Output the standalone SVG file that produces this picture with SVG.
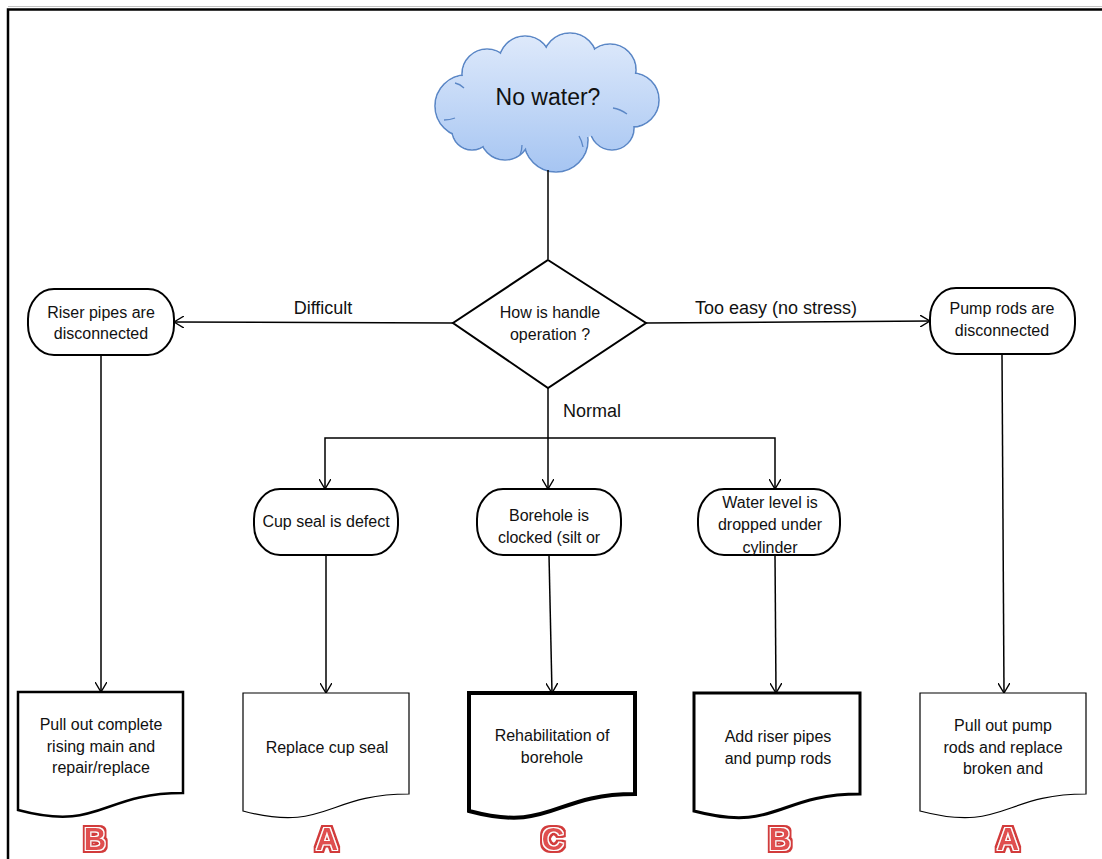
<svg xmlns="http://www.w3.org/2000/svg" width="1102" height="859" viewBox="0 0 1102 859">
<style>
.t{font-family:"Liberation Sans",Arial,sans-serif;font-size:16px;fill:#111;text-anchor:middle}
.lbl{font-family:"Liberation Sans",Arial,sans-serif;font-size:18px;fill:#111;text-anchor:middle}
.dt{font-family:"Liberation Sans",Arial,sans-serif;font-size:16px;fill:#111;text-anchor:middle}
.node{fill:#fff;stroke:#000;stroke-width:2}
.doc{fill:#fff;stroke:#000}
.conn path{fill:none;stroke:#000;stroke-width:1.5}
.grade{font-family:"Liberation Sans",Arial,sans-serif;font-size:31px;font-weight:bold;fill:#e05050;text-anchor:middle;filter:url(#wordart)}
</style>
<defs>
<linearGradient id="cloudGrad" gradientUnits="userSpaceOnUse" x1="0" y1="33" x2="0" y2="172">
<stop offset="0" stop-color="#dfeafb"/>
<stop offset="1" stop-color="#a6c5f2"/>
</linearGradient>
<marker id="arr" viewBox="0 0 10 12" markerWidth="10" markerHeight="12" refX="10" refY="6" orient="auto" markerUnits="userSpaceOnUse">
<path d="M0,0 L10,6 L0,12" fill="none" stroke="#000" stroke-width="1.4"/>
</marker>
<filter id="wordart" x="-30%" y="-30%" width="160%" height="160%">
<feMorphology in="SourceAlpha" operator="dilate" radius="3" result="outer"/>
<feFlood flood-color="#d23b3b" result="red"/>
<feComposite in="red" in2="outer" operator="in" result="redOuter"/>
<feMorphology in="SourceAlpha" operator="dilate" radius="1.4" result="mid"/>
<feFlood flood-color="#ffffff" result="white"/>
<feComposite in="white" in2="mid" operator="in" result="whiteMid"/>
<feMerge><feMergeNode in="redOuter"/><feMergeNode in="whiteMid"/><feMergeNode in="SourceGraphic"/></feMerge>
</filter>
</defs>
<rect width="1102" height="859" fill="#fff"/>
<g id="frame">
<line x1="8" y1="6.5" x2="1102" y2="6.5" stroke="#c4c4c4" stroke-width="1"/>
<path d="M8,859 V9.5 H1102" fill="none" stroke="#000" stroke-width="2.5"/>
</g>

<g id="cloud">
<g fill="url(#cloudGrad)" stroke="#5b87c6" stroke-width="1.6">
<circle cx="466" cy="106" r="31"/>
<circle cx="487" cy="74" r="25"/>
<circle cx="525" cy="62" r="26"/>
<circle cx="570" cy="60" r="27"/>
<circle cx="610" cy="70" r="26"/>
<circle cx="632" cy="100" r="27"/>
<circle cx="612" cy="128" r="22"/>
<circle cx="556" cy="140" r="32"/>
<circle cx="505" cy="135" r="25"/>
<circle cx="472" cy="130" r="20"/>
</g>
<g fill="url(#cloudGrad)">
<circle cx="466" cy="106" r="30.2"/>
<circle cx="487" cy="74" r="24.2"/>
<circle cx="525" cy="62" r="25.2"/>
<circle cx="570" cy="60" r="26.2"/>
<circle cx="610" cy="70" r="25.2"/>
<circle cx="632" cy="100" r="26.2"/>
<circle cx="612" cy="128" r="21.2"/>
<circle cx="556" cy="140" r="31.2"/>
<circle cx="505" cy="135" r="24.2"/>
<circle cx="472" cy="130" r="19.2"/>
<ellipse cx="550" cy="100" rx="80" ry="42"/>
</g>
<g fill="none" stroke="#5b87c6" stroke-width="1.3">
<path d="M455,83 Q460,84 464,88"/>
<path d="M613,108 Q620,109 627,114"/>
<path d="M583,147 Q582,141 579,136"/>
<path d="M520,155 Q522,150 522,145"/>
<path d="M444,120 Q450,120 455,118"/>
</g>
<text x="548" y="105" style="font-family:'Liberation Sans',Arial,sans-serif;font-size:23px;fill:#111;text-anchor:middle">No water?</text>
</g>

<g id="decision">
<path d="M548,260 L646,323 L548,388 L453,323 Z" class="node"/>
<text class="t" x="550" y="318">How is handle</text>
<text class="t" x="550" y="340">operation ?</text>
</g>

<g id="riser">
<rect x="28" y="289" width="146" height="66" rx="26" ry="30" class="node"/>
<text class="t" x="101" y="318">Riser pipes are</text>
<text class="t" x="101" y="339">disconnected</text>
</g>

<g id="pumprods">
<rect x="930" y="288" width="145" height="66" rx="26" ry="30" class="node"/>
<text class="t" x="1002" y="314">Pump rods are</text>
<text class="t" x="1002" y="336">disconnected</text>
</g>

<g id="cupseal">
<rect x="254" y="489" width="144" height="66" rx="26" ry="30" class="node"/>
<text class="t" x="326" y="527">Cup seal is defect</text>
</g>

<g id="borehole">
<rect x="477" y="489" width="144" height="66" rx="26" ry="30" class="node"/>
<text class="t" x="549" y="521">Borehole is</text>
<text class="t" x="549" y="543">clocked (silt or</text>
</g>

<g id="waterlevel">
<rect x="698" y="489" width="142" height="66" rx="26" ry="30" class="node"/>
<text class="t" x="770" y="508">Water level is</text>
<text class="t" x="770" y="530">dropped under</text>
<text class="t" x="770" y="553">cylinder</text>
</g>

<g id="doc1">
<path class="doc" stroke-width="2.5" d="M18,692 H183 V793 C100.5,793 100.5,832 18,810 Z"/>
<text class="dt" x="101" y="730">Pull out complete</text>
<text class="dt" x="101" y="752">rising main and</text>
<text class="dt" x="101" y="773">repair/replace</text>
<text class="grade" x="95" y="850">B</text>
</g>

<g id="doc2">
<path class="doc" stroke-width="1.2" d="M243,693 H409 V794 C326,794 326,833 243,811 Z"/>
<text class="dt" x="327" y="753">Replace cup seal</text>
<text class="grade" x="327" y="850">A</text>
</g>

<g id="doc3">
<path class="doc" stroke-width="4" d="M469,693 H635 V794 C552,794 552,833 469,811 Z"/>
<text class="dt" x="552" y="741">Rehabilitation of</text>
<text class="dt" x="552" y="763">borehole</text>
<text class="grade" x="553" y="850">C</text>
</g>

<g id="doc4">
<path class="doc" stroke-width="3" d="M694,693 H860 V794 C777,794 777,833 694,811 Z"/>
<text class="dt" x="778" y="742">Add riser pipes</text>
<text class="dt" x="778" y="764">and pump rods</text>
<text class="grade" x="780" y="850">B</text>
</g>

<g id="doc5">
<path class="doc" stroke-width="1.2" d="M920,693 H1086 V794 C1003,794 1003,833 920,811 Z"/>
<text class="dt" x="1003" y="731">Pull out pump</text>
<text class="dt" x="1003" y="753">rods and replace</text>
<text class="dt" x="1003" y="774">broken and</text>
<text class="grade" x="1008" y="850">A</text>
</g>

<g id="connectors" class="conn">
<path d="M548,170 V259"/>
<path d="M453,323 L174,322" marker-end="url(#arr)"/>
<path d="M646,323 L930,321" marker-end="url(#arr)"/>
<path d="M548,388 V489" marker-end="url(#arr)"/>
<path d="M548,438 H325 V489" marker-end="url(#arr)"/>
<path d="M548,438 H775 V489" marker-end="url(#arr)"/>
<path d="M101,355 V692" marker-end="url(#arr)"/>
<path d="M326,555 V693" marker-end="url(#arr)"/>
<path d="M549,555 L552,693" marker-end="url(#arr)"/>
<path d="M775,555 L776,693" marker-end="url(#arr)"/>
<path d="M1002,354 L1004,693" marker-end="url(#arr)"/>
<text class="lbl" x="323" y="314">Difficult</text>
<text class="lbl" x="776" y="314">Too easy (no stress)</text>
<text class="lbl" x="592" y="417">Normal</text>
</g>
</svg>
